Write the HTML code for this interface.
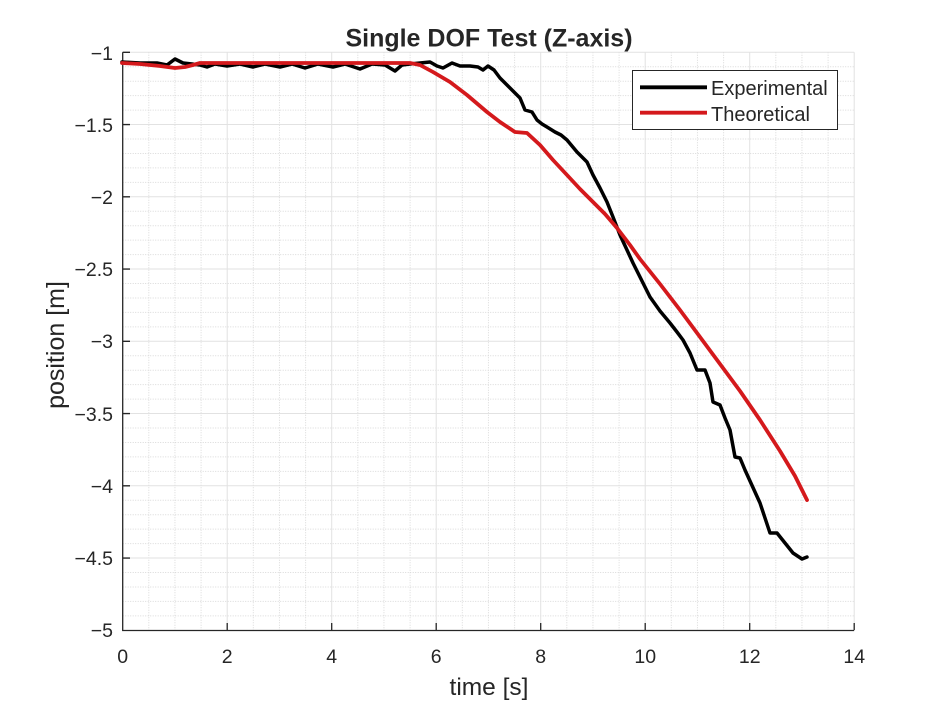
<!DOCTYPE html>
<html><head><meta charset="utf-8"><style>
html,body{margin:0;padding:0;background:#fff;}
svg{display:block;}
text{font-family:"Liberation Sans",Arial,sans-serif;fill:#262626;}
</style></head><body>
<svg width="945" height="709" viewBox="0 0 945 709" xmlns="http://www.w3.org/2000/svg">
<rect width="945" height="709" fill="#fff"/>
<!-- minor grid -->
<g stroke="#d9d9d9" stroke-width="1" stroke-dasharray="1,1.5" fill="none">
<path d="M148.8 52.3V630M174.95 52.3V630M201.1 52.3V630M253.3 52.3V630M279.45 52.3V630M305.6 52.3V630M357.8 52.3V630M383.95 52.3V630M410.1 52.3V630M462.3 52.3V630M488.45 52.3V630M514.6 52.3V630M566.8 52.3V630M592.95 52.3V630M619.1 52.3V630M671.3 52.3V630M697.45 52.3V630M723.6 52.3V630M775.8 52.3V630M801.95 52.3V630M828.1 52.3V630"/>
<path d="M122.7 66.75H854.2M122.7 81.2H854.2M122.7 95.65H854.2M122.7 110.1H854.2M122.7 139H854.2M122.7 153.45H854.2M122.7 167.9H854.2M122.7 182.35H854.2M122.7 211.25H854.2M122.7 225.7H854.2M122.7 240.15H854.2M122.7 254.6H854.2M122.7 283.5H854.2M122.7 297.95H854.2M122.7 312.4H854.2M122.7 326.85H854.2M122.7 355.75H854.2M122.7 370.2H854.2M122.7 384.65H854.2M122.7 399.1H854.2M122.7 428H854.2M122.7 442.45H854.2M122.7 456.9H854.2M122.7 471.35H854.2M122.7 500.25H854.2M122.7 514.7H854.2M122.7 529.15H854.2M122.7 543.6H854.2M122.7 572.5H854.2M122.7 586.95H854.2M122.7 601.4H854.2M122.7 615.85H854.2"/>
</g>
<!-- major grid -->
<g stroke="#e2e2e2" stroke-width="1" fill="none">
<path d="M227.2 52.3V630M331.7 52.3V630M436.2 52.3V630M540.7 52.3V630M645.2 52.3V630M749.7 52.3V630M854.2 52.3V630"/>
<path d="M122.7 52.3H854.2M122.7 124.55H854.2M122.7 196.8H854.2M122.7 269.05H854.2M122.7 341.3H854.2M122.7 413.55H854.2M122.7 485.8H854.2M122.7 558.05H854.2"/>
</g>
<!-- axes -->
<g stroke="#262626" stroke-width="1.3" fill="none">
<path d="M122.7 52.3V630.5H854.2"/>
<path d="M227.2 630V623M331.7 630V623M436.2 630V623M540.7 630V623M645.2 630V623M749.7 630V623M854.2 630V623"/>
<path d="M122.7 52.3H130M122.7 124.55H130M122.7 196.8H130M122.7 269.05H130M122.7 341.3H130M122.7 413.55H130M122.7 485.8H130M122.7 558.05H130"/>
</g>
<!-- tick labels -->
<g font-size="19.5" text-anchor="middle">
<text x="122.7" y="663">0</text><text x="227.2" y="663">2</text><text x="331.7" y="663">4</text><text x="436.2" y="663">6</text><text x="540.7" y="663">8</text><text x="645.2" y="663">10</text><text x="749.7" y="663">12</text><text x="854.2" y="663">14</text>
</g>
<g font-size="19.5" text-anchor="end">
<text x="113" y="60">−1</text><text x="113" y="132">−1.5</text><text x="113" y="204">−2</text><text x="113" y="276">−2.5</text><text x="113" y="348">−3</text><text x="113" y="421">−3.5</text><text x="113" y="493">−4</text><text x="113" y="565">−4.5</text><text x="113" y="637">−5</text>
</g>
<text x="489" y="695" font-size="24.5" text-anchor="middle">time [s]</text>
<text transform="translate(64,345) rotate(-90)" font-size="25" text-anchor="middle">position [m]</text>
<text x="489" y="46.5" font-size="25" font-weight="bold" text-anchor="middle" fill="#000">Single DOF Test (Z-axis)</text>
<!-- experimental -->
<polyline fill="none" stroke="#000" stroke-width="3.5" stroke-linejoin="round" stroke-linecap="round" points="122,62 140,63 157,63 167,65 175,59 183,63 192,64 200,65 207,67 215,64 227,66 240,64 253,67 265,64 280,67 292,64 305,68 318,64 333,67 345,64 360,69 372,64 385,65 395,71 402,65 410,64 420,63 430,62 437,66 443,68 452,63 460,66 470,66 478,67 483,70 488,66 494,70 500,78 505,83 510,88 515,93 520,98 525,110 532,112 537,120 542,124 547,127 555,132 561,135 567,140 572,146 577,152 582,157 587,162 593,175 600,188 607,202 613,217 620,235 627,250 633,263 641,279 650,297 660,311 670,323 677,332 683,340 690,353 697,370 705,370 710,383 713,402 720,405 725,418 730,430 735,457 740,458 745,470 750,481 755,492 760,503 765,518 770,533 777,533 785,543 793,553 802,559 807,557"/>
<!-- theoretical -->
<polyline fill="none" stroke="#d4191c" stroke-width="3.8" stroke-linejoin="round" stroke-linecap="round" points="122,63 140,64 160,66 175,68 185,67 193,65 200,63 215,63 410,63 420,65 433,72 450,82 467,95 487,112 500,122 515,132 527,133 540,145 553,160 567,175 580,189 593,202 605,214 617,228 630,245 640,259 660,284 680,310 700,337 720,364 740,391 760,420 780,451 795,476 807,500"/>
<!-- legend -->
<rect x="632.5" y="70.5" width="205" height="59" fill="#fff" stroke="#262626" stroke-width="1"/>
<line x1="640" y1="87.3" x2="707" y2="87.3" stroke="#000" stroke-width="3.8"/>
<line x1="640" y1="112.7" x2="707" y2="112.7" stroke="#d4191c" stroke-width="3.8"/>
<text x="711" y="95" font-size="20" fill="#000">Experimental</text>
<text x="711" y="121" font-size="20" fill="#000">Theoretical</text>
</svg>
</body></html>
